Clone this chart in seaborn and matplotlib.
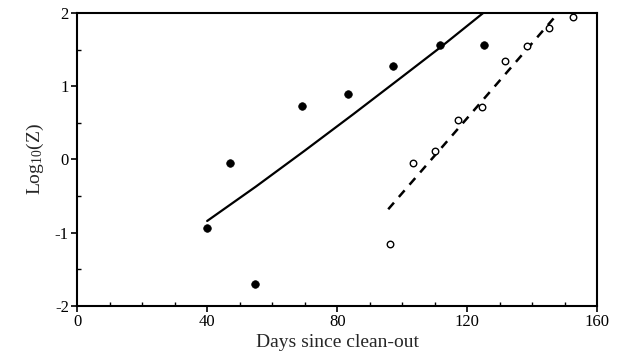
import matplotlib
matplotlib.use("Agg")
import matplotlib.pyplot as plt
import seaborn as sns
import pandas as pd
from matplotlib.ticker import MultipleLocator

# Data
filled_days = [40.1, 47.0, 54.6, 69.1, 83.3, 97.3, 111.5, 125.2]
filled_logz = [-0.93, -0.05, -1.70, 0.73, 0.89, 1.27, 1.57, 1.56]

open_days = [96.1, 103.2, 110.1, 117.2, 124.5, 131.5, 138.5, 145.3, 152.4]
open_logz = [-1.15, -0.05, 0.12, 0.54, 0.71, 1.34, 1.55, 1.79, 1.94]

solid_fit_days = [40.0, 55.0, 70.0, 85.0, 100.0, 112.0, 124.9]
solid_fit_logz = [-0.84, -0.37, 0.12, 0.62, 1.13, 1.54, 2.0]

dashed_fit_days = [95.7, 148.0]
dashed_fit_logz = [-0.68, 2.0]

x_ticks = [0, 40, 80, 120, 160]
y_ticks = [-2, -1, 0, 1, 2]

sns.set_theme(style="white")
plt.rcParams["font.family"] = ["Liberation Serif", "DejaVu Serif"]
plt.rcParams["axes.unicode_minus"] = False
plt.rcParams["mathtext.fontset"] = "custom"
plt.rcParams["mathtext.rm"] = "Liberation Serif"
plt.rcParams["mathtext.it"] = "Liberation Serif:italic"

fig = plt.figure(figsize=(6.17, 3.62), dpi=100)
ax = fig.add_axes([0.125, 0.155, 0.843, 0.809])

df_f = pd.DataFrame({"x": filled_days, "y": filled_logz})
df_o = pd.DataFrame({"x": open_days, "y": open_logz})
df_s = pd.DataFrame({"x": solid_fit_days, "y": solid_fit_logz})
df_d = pd.DataFrame({"x": dashed_fit_days, "y": dashed_fit_logz})

sns.lineplot(data=df_s, x="x", y="y", ax=ax, color="black", linewidth=1.6,
             sort=True, estimator=None)
sns.lineplot(data=df_d, x="x", y="y", ax=ax, color="black", linewidth=1.8,
             linestyle=(0, (3.5, 3)), estimator=None)
sns.scatterplot(data=df_f, x="x", y="y", ax=ax, color="black", s=30,
                edgecolor="black", linewidth=0.5, zorder=3)
sns.scatterplot(data=df_o, x="x", y="y", ax=ax, facecolor="white", s=22,
                edgecolor="black", linewidth=1.0, zorder=3)

ax.set_xlim(0, 160)
ax.set_ylim(-2, 2)
ax.set_xticks(x_ticks)
ax.set_yticks(y_ticks)
ax.xaxis.set_minor_locator(MultipleLocator(10))
ax.yaxis.set_minor_locator(MultipleLocator(0.5))
ax.tick_params(axis="both", which="major", direction="out", length=4,
               width=1.2, colors="black", labelsize=12, pad=2,
               bottom=True, left=True, top=False, right=False)
ax.tick_params(axis="both", which="minor", direction="in", length=3,
               width=1.0, colors="black",
               bottom=True, left=True, top=False, right=False)

for sp in ax.spines.values():
    sp.set_visible(True)
    sp.set_color("black")
    sp.set_linewidth(1.5)

ax.set_xlabel("Days since clean-out", fontsize=14, labelpad=3)
ax.set_ylabel(r"Log$_{10}$(Z)", fontsize=14, labelpad=6)

fig.savefig("out.png", dpi=100, facecolor="white")
